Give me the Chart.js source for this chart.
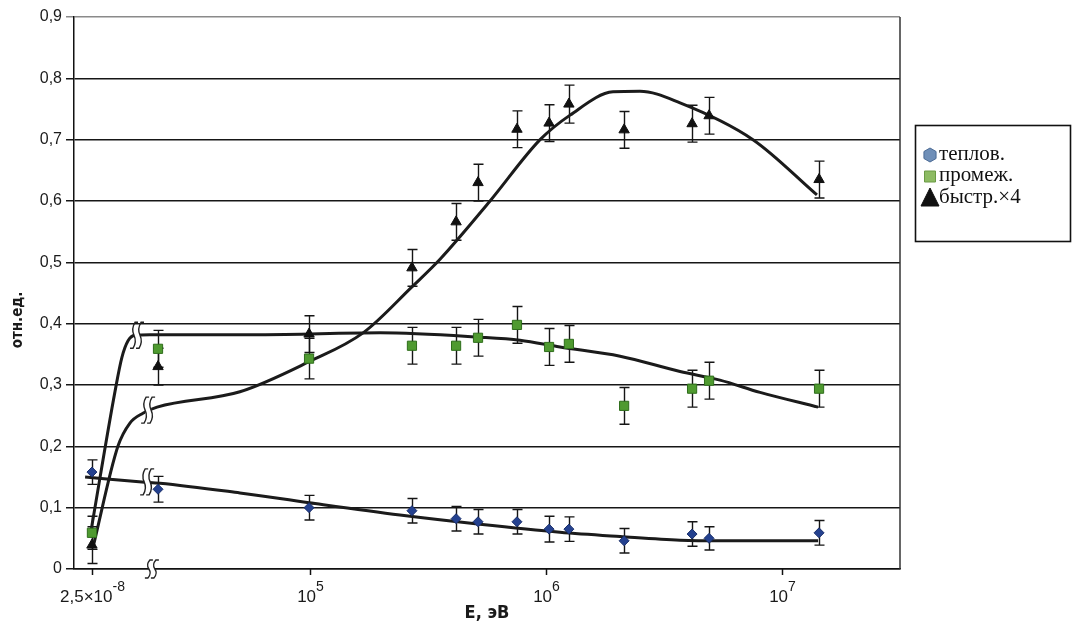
<!DOCTYPE html>
<html>
<head>
<meta charset="utf-8">
<script src="https://cdn.jsdelivr.net/npm/chart.js@4.4.1/dist/chart.umd.min.js"></script>
<style>
  html, body { margin: 0; padding: 0; background: #fff; }
  #wrap { width: 1073px; height: 630px; }
</style>
</head>
<body>
<div id="wrap"><canvas id="myChart" width="1073" height="630"></canvas></div>
<script>
// x is lg(E, эВ); the thermal point 2,5×10^-8 эВ is placed left of the axis break
const pointPos = [4.076, 4.356, 4.996, 5.432, 5.619, 5.712, 5.877, 6.013, 6.097, 6.331, 6.619, 6.691, 7.157];

const thermal    = [0.158, 0.130, 0.100, 0.095, 0.082, 0.077, 0.077, 0.065, 0.065, 0.046, 0.057, 0.050, 0.059];
const thermalErr = [0.020, 0.021, 0.020, 0.020, 0.020, 0.020, 0.020, 0.021, 0.020, 0.020, 0.020, 0.019, 0.020];

const interm    = [0.059, 0.359, 0.343, 0.364, 0.364, 0.377, 0.398, 0.362, 0.367, 0.266, 0.294, 0.307, 0.294];
const intermErr = [0.027, 0.030, 0.033, 0.030, 0.030, 0.030, 0.030, 0.030, 0.030, 0.030, 0.030, 0.030, 0.030];

const fast    = [0.039, 0.330, 0.383, 0.491, 0.566, 0.630, 0.717, 0.727, 0.758, 0.716, 0.726, 0.739, 0.635];
const fastErr = [0.030, 0.030, 0.030, 0.030, 0.030, 0.030, 0.030, 0.030, 0.031, 0.030, 0.030, 0.030, 0.030];

// fitted curves, [lgE, value]
const thermalFit = [[4.047, 0.150], [4.288, 0.142], [4.364, 0.140], [4.703, 0.124], [4.996, 0.108], [5.381, 0.088],
  [5.720, 0.073], [6.059, 0.060], [6.314, 0.053], [6.568, 0.047], [6.737, 0.046], [7.153, 0.046]];
const intermFit = [[4.072, 0.062], [4.174, 0.290], [4.203, 0.345], [4.229, 0.372], [4.258, 0.381], [4.322, 0.382],
  [4.788, 0.382], [5.297, 0.385], [5.720, 0.378], [5.890, 0.373], [6.059, 0.362], [6.314, 0.347], [6.568, 0.322],
  [6.737, 0.308], [6.907, 0.288], [7.153, 0.264]];
const fastFit = [[4.081, 0.036], [4.186, 0.200], [4.237, 0.238], [4.292, 0.254], [4.352, 0.264], [4.703, 0.289],
  [4.996, 0.338], [5.225, 0.385], [5.432, 0.460], [5.551, 0.505], [5.763, 0.600], [5.975, 0.700], [6.102, 0.740],
  [6.284, 0.778], [6.398, 0.779], [6.568, 0.760], [6.877, 0.700], [7.148, 0.610]];

// x tick labels
const xTicks = [
  { pos: 4.076, base: "2,5\u00d710", exp: "-8" },
  { pos: 5, base: "10", exp: "5" },
  { pos: 6, base: "10", exp: "6" },
  { pos: 7, base: "10", exp: "7" },
];

// axis-break marks [lgE, value]
const breakMarks = [[4.267, 0.381], [4.314, 0.259], [4.31, 0.142], [4.33, 0]];

const labels = ["теплов.", "промеж.", "быстр.\u00d74"];

const toPts = (vals) => vals.map((v, i) => ({ x: pointPos[i], y: v }));
const toXY = (arr) => arr.map((p) => ({ x: p[0], y: p[1] }));

const series = [
  { values: thermal, err: thermalErr },
  { values: interm, err: intermErr },
  { values: fast, err: fastErr },
];

const fitLine = (d) => ({
  data: toXY(d),
  showLine: true,
  borderColor: "#1b1b1b",
  borderWidth: 3,
  pointRadius: 0,
  cubicInterpolationMode: "monotone",
});

function drawMarker(ctx, style, x, y) {
  ctx.beginPath();
  if (style === "hex") {
    for (let k = 0; k < 6; k++) {
      const a = Math.PI / 6 + (k * Math.PI) / 3;
      const px = x + 7 * Math.cos(a), py = y + 7 * Math.sin(a);
      k ? ctx.lineTo(px, py) : ctx.moveTo(px, py);
    }
    ctx.closePath();
    ctx.fillStyle = "#6f8fb8";
    ctx.strokeStyle = "#4a6a94";
  } else if (style === "rect") {
    ctx.rect(x - 5.5, y - 5.5, 11, 11);
    ctx.fillStyle = "#8dbb63";
    ctx.strokeStyle = "#6a9a45";
  } else {
    ctx.moveTo(x, y - 10);
    ctx.lineTo(x + 9, y + 8);
    ctx.lineTo(x - 9, y + 8);
    ctx.closePath();
    ctx.fillStyle = "#111";
    ctx.strokeStyle = "#111";
  }
  ctx.fill();
  ctx.lineWidth = 1;
  ctx.stroke();
}

const decor = {
  id: "decor",
  beforeDatasetsDraw(chart) {
    const { ctx, scales: { x, y } } = chart;
    ctx.save();
    ctx.strokeStyle = "#151515";
    ctx.lineWidth = 1.4;
    series.forEach((s) => {
      s.values.forEach((v, i) => {
        const px = Math.round(x.getPixelForValue(pointPos[i])) + 0.5;
        const top = y.getPixelForValue(v + s.err[i]);
        const bot = y.getPixelForValue(v - s.err[i]);
        ctx.beginPath();
        ctx.moveTo(px, top); ctx.lineTo(px, bot);
        ctx.moveTo(px - 5, top); ctx.lineTo(px + 5, top);
        ctx.moveTo(px - 5, bot); ctx.lineTo(px + 5, bot);
        ctx.stroke();
      });
    });
    ctx.restore();
  },
  afterDraw(chart) {
    const { ctx, chartArea: a, scales: { x, y } } = chart;
    ctx.save();

    // right frame line
    ctx.strokeStyle = "#333";
    ctx.lineWidth = 1.5;
    ctx.beginPath();
    ctx.moveTo(a.right, a.top);
    ctx.lineTo(a.right, a.bottom);
    ctx.stroke();

    // x ticks with superscript labels
    ctx.fillStyle = "#1a1a1a";
    ctx.strokeStyle = "#111";
    ctx.textBaseline = "alphabetic";
    xTicks.forEach((t) => {
      const px = Math.round(x.getPixelForValue(t.pos)) + 0.5;
      ctx.beginPath();
      ctx.moveTo(px, a.bottom);
      ctx.lineTo(px, a.bottom + 6);
      ctx.stroke();
      ctx.font = "17px 'Liberation Sans', Arial, sans-serif";
      const wb = ctx.measureText(t.base).width;
      ctx.font = "14px 'Liberation Sans', Arial, sans-serif";
      const we = ctx.measureText(t.exp).width;
      const x0 = px - (wb + we) / 2;
      ctx.font = "17px 'Liberation Sans', Arial, sans-serif";
      ctx.textAlign = "left";
      ctx.fillText(t.base, x0, a.bottom + 33);
      ctx.font = "14px 'Liberation Sans', Arial, sans-serif";
      ctx.fillText(t.exp, x0 + wb, a.bottom + 22);
    });

    // break marks
    breakMarks.forEach((b) => {
      const px = x.getPixelForValue(b[0]);
      const py = y.getPixelForValue(b[1]);
      const h = b[1] === 0 ? 18 : 26;
      ctx.fillStyle = "#fff";
      ctx.fillRect(px - 3, py - h / 2 + 3, 6, h - 6);
      ctx.strokeStyle = "#222";
      ctx.lineWidth = 1.4;
      [-3, 3].forEach((dx) => {
        const cx = px + dx;
        ctx.beginPath();
        ctx.moveTo(cx + 4, py - h / 2);
        ctx.lineTo(cx + 1, py - h / 2);
        ctx.quadraticCurveTo(cx - 3, py - h / 4, cx, py);
        ctx.quadraticCurveTo(cx + 3, py + h / 4, cx - 1, py + h / 2);
        ctx.lineTo(cx - 4, py + h / 2);
        ctx.stroke();
      });
    });

    // y title
    ctx.save();
    ctx.translate(18, 320);
    ctx.rotate(-Math.PI / 2);
    ctx.font = "bold 15px 'Liberation Sans Narrow', 'DejaVu Sans Condensed', sans-serif";
    ctx.fillStyle = "#1a1a1a";
    ctx.textAlign = "center";
    ctx.textBaseline = "middle";
    ctx.fillText("отн.ед.", 0, 0);
    ctx.restore();

    // legend
    ctx.strokeStyle = "#111";
    ctx.lineWidth = 1.6;
    ctx.strokeRect(915.5, 125.5, 155, 116);
    const styles = ["hex", "rect", "tri"];
    ctx.font = "21px 'Liberation Serif', 'Times New Roman', serif";
    ctx.textAlign = "left";
    ctx.textBaseline = "middle";
    labels.forEach((lab, i) => {
      const ly = 154 + i * 21.5;
      drawMarker(ctx, styles[i], 930, ly + 1);
      ctx.fillStyle = "#111";
      ctx.fillText(lab, 939, ly);
    });

    ctx.restore();
  },
};

new Chart(document.getElementById("myChart"), {
  type: "scatter",
  data: {
    datasets: [
      { label: labels[0], data: toPts(thermal), pointStyle: "rectRot", pointRadius: 5,
        backgroundColor: "#24418f", borderColor: "#1a2f6b", borderWidth: 1 },
      { label: labels[1], data: toPts(interm), pointStyle: "rect", pointRadius: 6.5,
        backgroundColor: "#4f9a30", borderColor: "#2f6e1c", borderWidth: 1 },
      { label: labels[2], data: toPts(fast), pointStyle: "triangle", pointRadius: 6,
        backgroundColor: "#111", borderColor: "#111", borderWidth: 1 },
      fitLine(thermalFit),
      fitLine(intermFit),
      fitLine(fastFit),
    ],
  },
  options: {
    responsive: false,
    animation: false,
    devicePixelRatio: 1,
    layout: { padding: { top: 17, right: 173, left: 0, bottom: 0 } },
    plugins: { legend: { display: false }, tooltip: { enabled: false } },
    scales: {
      x: {
        type: "linear",
        min: 4,
        max: 7.5,
        grid: { display: false },
        ticks: { display: false },
        border: { color: "#111", width: 1.5 },
        title: {
          display: true,
          text: "E, эВ",
          color: "#1a1a1a",
          font: { family: "'Liberation Sans Narrow', 'DejaVu Sans Condensed', sans-serif", size: 18, weight: "bold" },
          padding: { top: 0, bottom: 6 },
        },
        afterFit(scale) { scale.height = 61; },
      },
      y: {
        min: 0,
        max: 0.9,
        ticks: {
          stepSize: 0.1,
          color: "#1a1a1a",
          padding: 4,
          font: { family: "'Liberation Sans', Arial, sans-serif", size: 16 },
          callback: (v) => (Math.abs(v) < 1e-9 ? "0" : v.toFixed(1).replace(".", ",")),
        },
        grid: {
          color: (c) => (c.tick && Math.abs(c.tick.value - 0.9) < 1e-6 ? "#8a8a8a" : "#161616"),
          lineWidth: 1.5,
          tickLength: 8,
        },
        border: { color: "#111", width: 1.5 },
        afterFit(scale) { scale.width = 74; },
      },
    },
  },
  plugins: [decor],
});
</script>
</body>
</html>
